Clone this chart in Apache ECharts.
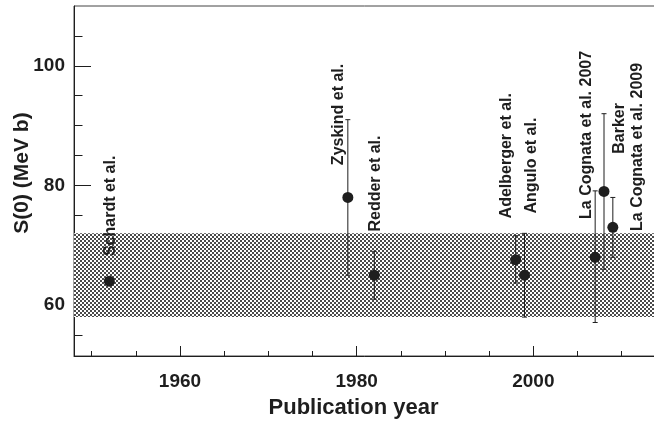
<!DOCTYPE html>
<html>
<head>
<meta charset="utf-8">
<script src="https://cdn.jsdelivr.net/npm/echarts@6/dist/echarts.min.js"></script>
<style>
html,body{margin:0;padding:0;background:#fff;}
#chart{width:654px;height:422px;}
</style>
</head>
<body>
<div id="chart"></div>
<script>
// ---- data ----
const authors = ['Schardt et al.', 'Zyskind et al.', 'Redder et al.', 'Adelberger et al.', 'Angulo et al.', 'La Cognata et al. 2007', 'Barker', 'La Cognata et al. 2009'];
const years = [1952, 1979, 1982, 1998, 1999, 2007, 2008, 2009];
const values = [64, 78, 65, 67.6, 65, 68, 79, 73];
const errLow = [64, 65, 61, 63.7, 58, 57.1, 66, 68];
const errHigh = [64, 91, 69, 71.6, 72, 79.1, 92, 78];
// label anchors (bottom of rotated text), in data units
const labelX = [1952.1, 1978.0, 1982.1, 1997.0, 1999.85, 2006.0, 2009.75, 2011.8];
const labelY = [68.2, 83.4, 72.3, 74.5, 75.3, 74.4, 85.3, 72.4];
const bandLow = 58;
const bandHigh = 72;
const xMajorTicks = [1960, 1980, 2000];
const xMinorTicks = [1950, 1955, 1965, 1970, 1975, 1985, 1990, 1995, 2005, 2010];
const yMajorTicks = [60, 80, 100];
const yMinorTicks = [55, 65, 70, 75, 85, 90, 95, 105];

// checkerboard pattern
const pc = document.createElement('canvas');
pc.width = 4; pc.height = 4;
const pctx = pc.getContext('2d');
pctx.fillStyle = '#ffffff'; pctx.fillRect(0, 0, 4, 4);
pctx.fillStyle = '#4a4a4a'; pctx.fillRect(0, 0, 2, 2); pctx.fillRect(2, 2, 2, 2);

const chart = echarts.init(document.getElementById('chart'), null, {renderer: 'canvas'});
const ink = '#1e1e1e';
const xMin = 1948, xMax = 2014, yMin = 51.5, yMax = 110;
const font = 'Liberation Sans, Arial, Helvetica, sans-serif';

const option = {
  animation: false,
  backgroundColor: '#fff',
  grid: {left: 74, right: -3, top: 6, bottom: 66, containLabel: false, outerBoundsMode: 'none',
         show: true, borderColor: '#444', borderWidth: 1},
  xAxis: [
    {
      type: 'value', min: xMin, max: xMax, position: 'bottom',
      axisLine: {show: true, lineStyle: {color: ink, width: 1}},
      axisTick: {show: true, inside: true, length: 10, customValues: xMajorTicks, lineStyle: {color: ink, width: 1}},
      axisLabel: {show: true, customValues: xMajorTicks, formatter: v => String(v), fontSize: 19, fontWeight: 'bold', color: ink, fontFamily: font, margin: 16},
      splitLine: {show: false},
      name: 'Publication year', nameLocation: 'middle', nameGap: 41, nameMoveOverlap: false,
      nameTextStyle: {fontSize: 22, fontWeight: 'bold', color: ink, fontFamily: font, padding: [0, 24, 0, 0]}
    },
    {
      type: 'value', min: xMin, max: xMax, position: 'bottom',
      axisLine: {show: false},
      axisTick: {show: true, inside: true, length: 5, customValues: xMinorTicks, lineStyle: {color: ink, width: 1}},
      axisLabel: {show: false},
      splitLine: {show: false}
    }
  ],
  yAxis: [
    {
      type: 'value', min: yMin, max: yMax, position: 'left',
      axisLine: {show: true, lineStyle: {color: ink, width: 1}},
      axisTick: {show: true, inside: true, length: 17, customValues: yMajorTicks, lineStyle: {color: ink, width: 1}},
      axisLabel: {show: true, customValues: yMajorTicks, formatter: v => String(v), fontSize: 19, fontWeight: 'bold', color: ink, fontFamily: font, margin: 9},
      splitLine: {show: false},
      name: 'S(0) (MeV b)', nameLocation: 'middle', nameGap: 41, nameMoveOverlap: false,
      nameTextStyle: {fontSize: 21, fontWeight: 'bold', color: ink, fontFamily: font, padding: [0, 0, 0, 16]}
    },
    {
      type: 'value', min: yMin, max: yMax, position: 'left',
      axisLine: {show: false},
      axisTick: {show: true, inside: true, length: 8.5, customValues: yMinorTicks, lineStyle: {color: ink, width: 1}},
      axisLabel: {show: false},
      splitLine: {show: false}
    }
  ],
  series: [
    {
      type: 'line', xAxisIndex: 0, yAxisIndex: 0, data: [], z: 1,
      markArea: {
        silent: true,
        itemStyle: {color: {image: pc, repeat: 'repeat'}, opacity: 1},
        data: [[{xAxis: xMin, yAxis: bandLow}, {xAxis: xMax, yAxis: bandHigh}]]
      }
    },
    {
      type: 'custom', xAxisIndex: 0, yAxisIndex: 0, z: 4,
      data: years.map((y, i) => [y, errLow[i], errHigh[i]]),
      renderItem: function (params, api) {
        const lo = api.coord([api.value(0), api.value(1)]);
        const hi = api.coord([api.value(0), api.value(2)]);
        const c = 2.5;
        const style = {stroke: ink, lineWidth: 1};
        return {
          type: 'group',
          children: [
            {type: 'line', shape: {x1: lo[0], y1: lo[1], x2: hi[0], y2: hi[1]}, style: style},
            {type: 'line', shape: {x1: lo[0] - c, y1: lo[1], x2: lo[0] + c, y2: lo[1]}, style: style},
            {type: 'line', shape: {x1: hi[0] - c, y1: hi[1], x2: hi[0] + c, y2: hi[1]}, style: style}
          ]
        };
      }
    },
    {
      type: 'scatter', xAxisIndex: 0, yAxisIndex: 0, z: 5,
      symbol: 'circle', symbolSize: 11,
      itemStyle: {color: ink, opacity: 1},
      data: years.map((y, i) => [y, values[i]])
    },
    {
      type: 'scatter', xAxisIndex: 0, yAxisIndex: 0, z: 6,
      symbolSize: 0, silent: true,
      itemStyle: {opacity: 1},
      data: labelX.map((x, i) => ({value: [x, labelY[i]], name: authors[i]})),
      label: {
        show: true, position: 'inside', rotate: 90, align: 'left', verticalAlign: 'middle',
        formatter: p => p.name, fontSize: 16, fontWeight: 'bold', color: ink, opacity: 1, fontFamily: font
      }
    }
  ]
};
chart.setOption(option);
</script>
</body>
</html>
